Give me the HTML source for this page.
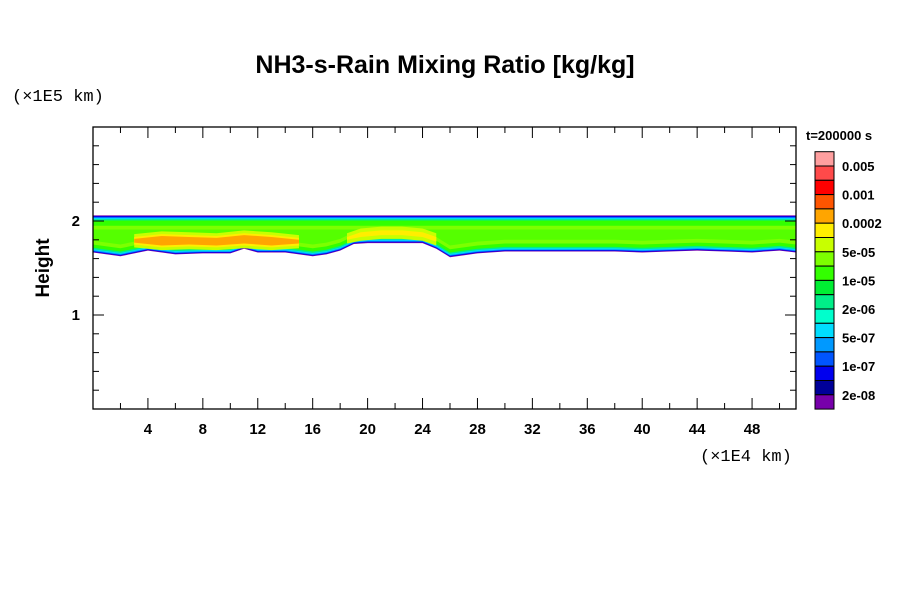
<!DOCTYPE html>
<html><head><meta charset="utf-8"><style>
body{margin:0;background:#fff;}
svg{display:block;font-family:"Liberation Sans",sans-serif;}
</style></head><body>
<svg id="c" width="900" height="600" viewBox="0 0 900 600">
<rect width="900" height="600" fill="#fff"/>
<text x="445" y="73" text-anchor="middle" font-size="25" font-weight="bold">NH3-s-Rain Mixing Ratio [kg/kg]</text>
<text x="12" y="101" font-size="17" fill="#000" font-family="Liberation Mono,monospace">(×1E5 km)</text>
<text x="700" y="461" font-size="17" font-family="Liberation Mono,monospace">(×1E4 km)</text>
<text transform="translate(49,268) rotate(-90)" text-anchor="middle" font-size="19" font-weight="bold">Height</text>
<text x="806" y="140" font-size="13" font-weight="bold">t=200000 s</text>
<g id="field"></g>
<g id="axes"></g>
<g id="cbar"></g>
</svg>
<script>
const xs=[0,2,4,6,8,10,11,12,14,16,17,18,19,20,22,24,25,26,28,30,32,34,36,38,40,42,44,46,48,50,51.2];
const bottomH=[1.68,1.64,1.70,1.66,1.67,1.67,1.72,1.68,1.68,1.64,1.66,1.70,1.77,1.78,1.78,1.78,1.72,1.63,1.67,1.69,1.69,1.69,1.69,1.69,1.68,1.69,1.70,1.69,1.68,1.70,1.68];
const topH=[2.04,2.04,2.04,2.04,2.04,2.04,2.04,2.04,2.04,2.04,2.04,2.04,2.04,2.04,2.04,2.04,2.04,2.04,2.04,2.04,2.04,2.04,2.04,2.04,2.04,2.04,2.04,2.04,2.04,2.04,2.04];
const coreX=[3,5,7,9,11,13,15];
const coreLo=[1.77,1.74,1.75,1.74,1.76,1.74,1.76];
const coreHi=[1.81,1.84,1.83,1.82,1.85,1.83,1.80];
const core2X=[18.5,19.5,21,22.5,24,25];
const core2Lo=[1.80,1.83,1.85,1.85,1.83,1.78];
const core2Hi=[1.83,1.88,1.90,1.90,1.88,1.83];
const cbColors=["#ff9f9f","#ff4a4a","#ff0000","#ff5500","#ffa500","#ffee00","#c8ff00","#7dff00","#33ff00","#00ee33","#00ee88","#00ffcc","#00ddff","#0099ff","#0055ff","#0000ee","#000099","#7700aa"];
const cbLabels=["0.005","0.001","0.0002","5e-05","1e-05","2e-06","5e-07","1e-07","2e-08"];
const xTicks=[4,8,12,16,20,24,28,32,36,40,44,48];
const yTicks=[1,2];
const X0=93,X1=796,Y0=409,Y1=127,XMAX=51.2,YMAX=3;
const sx=v=>X0+(X1-X0)*v/XMAX, sy=v=>Y0-(Y0-Y1)*v/YMAX;
const NS="http://www.w3.org/2000/svg";
function mk(t,a,p){const e=document.createElementNS(NS,t);for(const k in a)e.setAttribute(k,a[k]);p.appendChild(e);return e;}
const field=document.getElementById('field');
function band(dt,db,col,name){let p=[];xs.forEach((x,i)=>p.push(sx(x)+','+sy(topH[i]+dt)));for(let i=xs.length-1;i>=0;i--)p.push(sx(xs[i])+','+sy(bottomH[i]+db));
const e=mk('polygon',{points:p.join(' '),fill:col},field);

}
band(0.02,-0.015,"#7700aa","band-purple");
band(0.012,-0.008,"#0000ee","band-blue");
band(0.0,0.0,"#0099ff","band-skyblue");
band(-0.01,0.01,"#00ddff","band-cyan");
band(-0.02,0.02,"#00ee88","band-seagreen");
band(-0.035,0.035,"#33ff00","band-green");
band(-0.09,0.07,"#7dff00","band-lightgreen");
band(-0.13,0.11,"#55ff00","band-inner-green");
function core(X,L,H,col,pad,name){let p=[];X.forEach((x,i)=>p.push(sx(x)+','+sy(H[i]+pad)));for(let i=X.length-1;i>=0;i--)p.push(sx(X[i])+','+sy(L[i]-pad));
const e=mk('polygon',{points:p.join(' '),fill:col,'stroke-linejoin':'round'},field);

}
core(coreX,coreLo,coreHi,"#c8ff00",0.05,"core-west-yellowgreen");
core(coreX,coreLo,coreHi,"#ffee00",0.02,"core-west-yellow");
core(coreX,coreLo,coreHi,"#ffa500",0,"core-west-orange");
core(core2X,core2Lo,core2Hi,"#c8ff00",0.04,"core-central-yellowgreen");
core(core2X,core2Lo,core2Hi,"#ffee00",0,"core-central-yellow");
const ax=document.getElementById('axes');
mk('rect',{x:X0,y:Y1,width:X1-X0,height:Y0-Y1,fill:'none',stroke:'#000','stroke-width':1.3},ax);
for(let v=2;v<XMAX;v+=2){const maj=v%4===0;const L=maj?11:6;
mk('line',{x1:sx(v),x2:sx(v),y1:Y0,y2:Y0-L,stroke:'#000'},ax);
mk('line',{x1:sx(v),x2:sx(v),y1:Y1,y2:Y1+L,stroke:'#000'},ax);}
for(let v=0.2;v<YMAX-0.01;v+=0.2){const maj=Math.abs(v-Math.round(v))<0.01;const L=maj?11:6;
mk('line',{x1:X0,x2:X0+L,y1:sy(v),y2:sy(v),stroke:'#000'},ax);
mk('line',{x1:X1,x2:X1-L,y1:sy(v),y2:sy(v),stroke:'#000'},ax);}
xTicks.forEach(v=>{const t=mk('text',{x:sx(v),y:434,'text-anchor':'middle','font-size':15,'font-weight':'bold'},ax);t.textContent=v;

});
yTicks.forEach(v=>{const t=mk('text',{x:80,y:sy(v)+5,'text-anchor':'end','font-size':15,'font-weight':'bold'},ax);t.textContent=v;

});
const cb=document.getElementById('cbar');const CY=151.7,CH=14.3;
cbColors.forEach((c,i)=>{const r=mk('rect',{x:815,y:CY+i*CH,width:19,height:CH,fill:c,stroke:'#000','stroke-width':1},cb);

});
cbLabels.forEach((l,i)=>{const t=mk('text',{x:842,y:CY+(2*i+1)*CH+5,'font-size':13,'font-weight':'bold'},cb);t.textContent=l;

});
</script>
</body></html>
